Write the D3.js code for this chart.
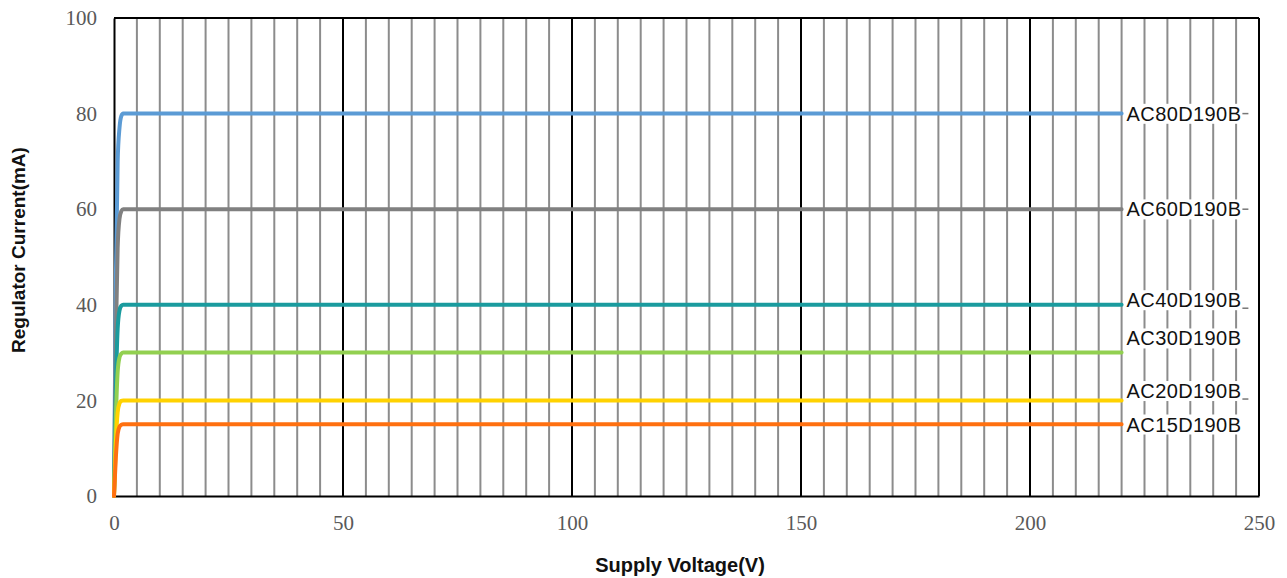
<!DOCTYPE html>
<html>
<head>
<meta charset="utf-8">
<script src="https://cdn.jsdelivr.net/npm/d3@7"></script>
<style>
  html, body { margin: 0; padding: 0; background: #fff; }
  svg { display: block; }
</style>
</head>
<body>
<svg id="chart" width="1287" height="578"></svg>
<script>
// ---- data ----
const voltage = [0, 0.4, 0.8, 1.2, 1.6, 2, 220];
const seriesNames = ["AC80D190B", "AC60D190B", "AC40D190B", "AC30D190B", "AC20D190B", "AC15D190B"];
const series80 = [0, 45, 70, 77, 79.5, 80, 80];
const series60 = [0, 33, 52, 58, 59.6, 60, 60];
const series40 = [0, 22, 35, 38.8, 39.8, 40, 40];
const series30 = [0, 16, 26, 29, 29.8, 30, 30];
const series20 = [0, 11, 17.5, 19.4, 19.9, 20, 20];
const series15 = [0, 8, 13, 14.5, 14.9, 15, 15];
const seriesColors = ["#5b9bd5", "#808080", "#1a9b9e", "#92d050", "#ffd200", "#ff7010"];
const xTicks = [0, 50, 100, 150, 200, 250];
const yTicks = [0, 20, 40, 60, 80, 100];
// label anchor values (data units)
const labelValues = [80, 60, 41, 33, 22, 15];

const allSeries = [series80, series60, series40, series30, series20, series15];

const svg = d3.select("#chart");
const m = { left: 114, right: 1259, top: 18, bottom: 496 };
const x = d3.scaleLinear().domain([0, 250]).range([m.left, m.right]);
const y = d3.scaleLinear().domain([0, 100]).range([m.bottom, m.top]);

// vertical grid every 5 V
const grid = d3.range(5, 250, 5);
svg.append("g").selectAll("line").data(grid).join("line")
  .attr("x1", d => x(d)).attr("x2", d => x(d))
  .attr("y1", y(100)).attr("y2", y(0))
  .attr("stroke", d => d % 50 === 0 ? "#000" : "#8c8c8c")
  .attr("stroke-width", 2);

// frame
svg.append("line").attr("x1", x(0)).attr("x2", x(250)).attr("y1", y(100)).attr("y2", y(100)).attr("stroke", "#000").attr("stroke-width", 2);
svg.append("line").attr("x1", x(250)).attr("x2", x(250)).attr("y1", y(100)).attr("y2", y(0)).attr("stroke", "#000").attr("stroke-width", 2);

// axes
const xAxis = svg.append("g").attr("transform", `translate(0,${y(0)})`)
  .call(d3.axisBottom(x).tickValues(xTicks).tickSize(0).tickPadding(19));
const yAxis = svg.append("g").attr("transform", `translate(${x(0)},0)`)
  .call(d3.axisLeft(y).tickValues(yTicks).tickSize(0).tickPadding(17));
[xAxis, yAxis].forEach(a => {
  a.select(".domain").attr("stroke", "#000").attr("stroke-width", 2);
  a.selectAll("text").attr("font-family", "Liberation Serif, DejaVu Serif, serif")
    .attr("font-size", 21).attr("fill", "#595959");
});

// lines
const line = d3.line().x((d, i) => x(voltage[i])).y(d => y(d)).curve(d3.curveMonotoneX);
allSeries.forEach((s, k) => {
  svg.append("path").datum(s).attr("d", line)
    .attr("fill", "none").attr("stroke", seriesColors[k]).attr("stroke-width", 4)
    .attr("stroke-linejoin", "round").attr("stroke-linecap", "round");
});

// data labels
const lx = x(220) + 5;
seriesNames.forEach((name, k) => {
  const yy = y(labelValues[k]);
  const g = svg.append("g");
  const t = g.append("text").attr("x", lx).attr("y", yy).attr("dy", "0.36em")
    .attr("font-family", "Liberation Sans, Arial, sans-serif").attr("font-size", 20)
    .attr("letter-spacing", 0.4)
    .attr("fill", "#111").text(name);
  const bb = t.node().getBBox();
  g.insert("rect", "text").attr("x", bb.x - 2).attr("y", bb.y + 1).attr("width", bb.width + 4).attr("height", bb.height - 2).attr("fill", "#fff");
  const tick = (k === 2 || k === 4) ? bb.y + bb.height - 3 : yy;
  if (k !== 3 && k !== 5) {
    g.append("line").attr("x1", bb.x + bb.width + 1).attr("x2", bb.x + bb.width + 7)
      .attr("y1", tick).attr("y2", tick).attr("stroke", "#777").attr("stroke-width", 1.5);
  }
});

// axis titles
svg.append("text").attr("x", 680).attr("y", 572).attr("text-anchor", "middle")
  .attr("font-family", "Liberation Sans, Arial, sans-serif").attr("font-weight", "bold")
  .attr("font-size", 20).attr("fill", "#111").text("Supply Voltage(V)");
svg.append("text").attr("transform", `translate(25,250) rotate(-90)`)
  .attr("text-anchor", "middle")
  .attr("font-family", "Liberation Sans, Arial, sans-serif").attr("font-weight", "bold")
  .attr("font-size", 19).attr("fill", "#111").text("Regulator Current(mA)");
</script>
</body>
</html>
